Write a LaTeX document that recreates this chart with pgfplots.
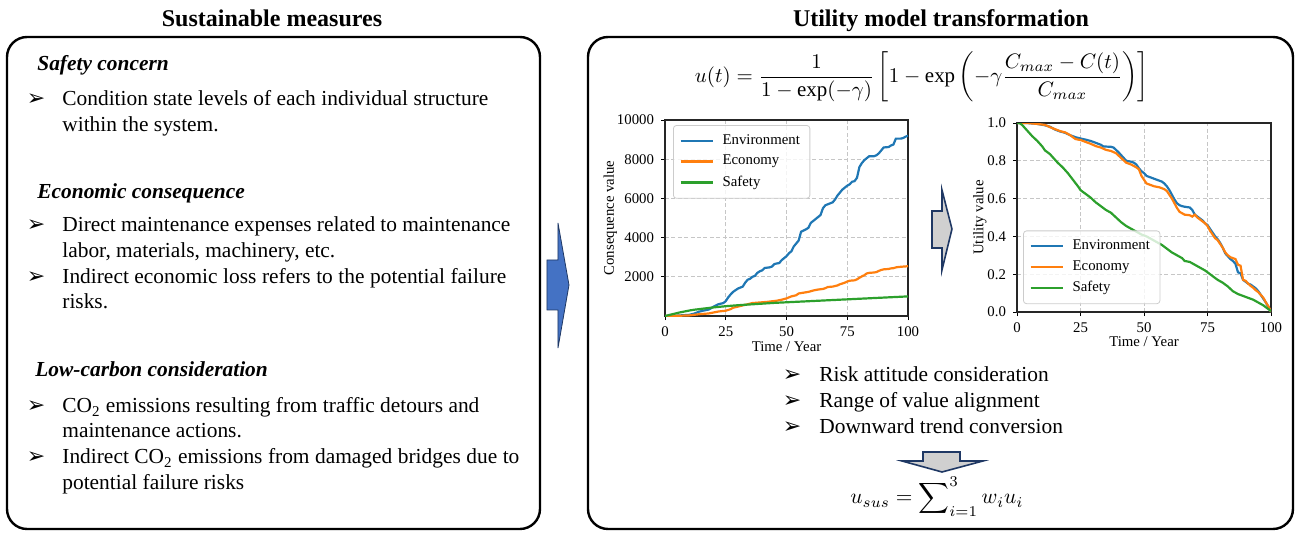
\documentclass[border=0pt]{standalone}
\usepackage{fontspec}
\setmainfont{Liberation Serif}
\newfontfamily\dejavu{DejaVu Sans}
\usepackage{graphicx}
\usepackage{pgfplots}
\pgfplotsset{compat=1.18}
\definecolor{mblue}{HTML}{1F77B4}
\definecolor{morange}{HTML}{FF7F0E}
\definecolor{mgreen}{HTML}{2CA02C}
\definecolor{arrowblue}{HTML}{4472C4}
\definecolor{navy}{HTML}{1F3864}
\definecolor{agray}{HTML}{D0D0D0}
\newcommand{\bodyfont}{\fontsize{10.7bp}{13bp}\selectfont}
\newcommand{\bul}{{\dejavu\fontsize{11bp}{12bp}\selectfont ➢}}
\newcommand{\plotfont}{\fontsize{7.4bp}{9bp}\selectfont}
\pgfplotsset{
  legend image code/.code={\draw[#1] (0bp,0bp) -- (16bp,0bp); \path (18.5bp,0bp);},
  myaxis/.style={
    scale only axis,
    xmin=0,xmax=100,
    xtick={0,25,50,75,100},
    tick align=outside, xtick pos=bottom, ytick pos=left,
    major tick length=2bp,
    tick style={black, line width=0.5bp},
    axis line style={black!85, line width=0.6bp},
    grid=major,
    grid style={gray!45, line width=0.5bp, dash pattern=on 2bp off 1.2bp},
    tick label style={font=\plotfont},
    label style={font=\plotfont},
    /pgf/number format/assume math mode=true,
    /pgf/number format/1000 sep={},
    legend style={font=\plotfont, draw=black!20, rounded corners=1.5bp, fill=white, fill opacity=0.8, text opacity=1, row sep=0bp, inner xsep=3bp, inner ysep=2.5bp},
    legend cell align=left,
    every axis plot/.append style={line width=1.1bp},
    xlabel={Time / Year},
    xlabel style={at={(axis description cs:0.5,-0.158)}, anchor=center},
  }
}
\begin{document}
\begin{tikzpicture}
\useasboundingbox (0,0) rectangle (647.5bp,-266.5bp);
\begin{scope}[x=0.5bp,y=-0.5bp]
% titles and boxes
\node[anchor=base, inner sep=0, font=\fontsize{12bp}{14bp}\selectfont\bfseries] at (272,26) {Sustainable measures};
\node[anchor=base, inner sep=0, font=\fontsize{12bp}{14bp}\selectfont\bfseries] at (941,26) {Utility model transformation};
\draw[line width=1.2bp, rounded corners=10bp] (7,37) rectangle (540,529);
\draw[line width=1.2bp, rounded corners=10bp] (588,37) rectangle (1293,529);
% left text
\begin{scope}[every node/.style={inner sep=0, font=\bodyfont}]
\node[anchor=base west] at (37,70) {\textbf{\textit{Safety concern}}};
\node[anchor=base] at (36,106) {\bul};
\node[anchor=base west] at (62,106) {\makebox[213bp][s]{Condition state levels of each individual structure}};
\node[anchor=base west] at (62,132) {within the system.};
\node[anchor=base west] at (37,199) {\textbf{\textit{Economic consequence}}};
\node[anchor=base] at (36,232) {\bul};
\node[anchor=base west] at (62,232) {\makebox[224bp][s]{Direct maintenance expenses related to maintenance}};
\node[anchor=base west] at (62,258) {labor, materials, machinery, etc.};
\node[anchor=base] at (36,284) {\bul};
\node[anchor=base west] at (62,284) {\makebox[222bp][s]{Indirect economic loss refers to the potential failure}};
\node[anchor=base west] at (62,309) {risks.};
\node[anchor=base west] at (35,377) {\textbf{\textit{Low-carbon consideration}}};
\node[anchor=base] at (36,413) {\bul};
\node[anchor=base west] at (62,413) {\makebox[208.5bp][s]{CO\textsubscript{2} emissions resulting from traffic detours and}};
\node[anchor=base west] at (62,438) {maintenance actions.};
\node[anchor=base] at (36,464) {\bul};
\node[anchor=base west] at (62,464) {\makebox[228.5bp][s]{Indirect CO\textsubscript{2} emissions from damaged bridges due to}};
\node[anchor=base west] at (62,490) {potential failure risks};
% right text
\node[anchor=base] at (792,382) {\bul};
\node[anchor=base west] at (819,382) {Risk attitude consideration};
\node[anchor=base] at (792,408) {\bul};
\node[anchor=base west] at (819,408) {Range of value alignment};
\node[anchor=base] at (792,434) {\bul};
\node[anchor=base west] at (819,434) {Downward trend conversion};
\end{scope}
% formulas
\node[inner sep=0] at (922,77) {\resizebox{227bp}{!}{$\displaystyle u(t)=\frac{1}{1-\exp(-\gamma)}\left[1-\exp\left(-\gamma\frac{C_{max}-C(t)}{C_{max}}\right)\right]$}};
\node[inner sep=0] at (937,497) {\resizebox{86.5bp}{!}{$\displaystyle u_{sus}=\sum\nolimits_{i=1}^{3} w_i u_i$}};
% arrows
\draw[fill=arrowblue, draw=navy, line width=0.4bp] (547,260) -- (558,260) -- (558,223) -- (569,285) -- (558,348) -- (558,310) -- (547,310) -- cycle;
\draw[fill=agray, draw=navy, line width=0.8bp] (932,211) -- (942,211) -- (942,190) -- (952,229) -- (942,270) -- (942,248) -- (932,248) -- cycle;
\draw[fill=agray, draw=navy, line width=0.8bp] (923,452) -- (960,452) -- (960,461) -- (983,461) -- (942,472) -- (902,461) -- (923,461) -- cycle;
\end{scope}

% left plot
\begin{axis}[myaxis, at={(332.5bp,-158bp)}, anchor=south west,
  width=121.5bp, height=98bp,
  ymin=0, ymax=10000, ytick={2000,4000,6000,8000,10000}, scaled y ticks=false,
  ylabel={Consequence value},
  ylabel style={at={(axis description cs:-0.225,0.5)}, anchor=center},
  legend style={at={(0.033,0.974)}, anchor=north west}]
\addplot[mblue] coordinates {(0,0)(5,20)(10,60)(12,120)(14,220)(16,280)(18,330)(19,400)(20,480)(22,600)(24,660)(25,760)(26,950)(27,1100)(28,1230)(30,1400)(31,1450)(32,1500)(33,1700)(34,1850)(35,1900)(36,2000)(37,2050)(38,2200)(39,2280)(40,2330)(41,2450)(43,2480)(44,2520)(45,2650)(46,2680)(47,2700)(48,2850)(50,3050)(51,3200)(52,3300)(53,3550)(54,3700)(55,3850)(56,4300)(58,4420)(59,4500)(60,4750)(62,4950)(63,5050)(64,5150)(65,5500)(66,5650)(68,5750)(69,5800)(70,5950)(71,6150)(72,6300)(73,6450)(74,6550)(75,6650)(76,6720)(77,6850)(78,6880)(79,7050)(80,7600)(81,7800)(82,7950)(83,8050)(84,8150)(86,8150)(87,8200)(88,8300)(89,8450)(90,8600)(92,8620)(93,8700)(94,8750)(95,9050)(97,9050)(98,9080)(99,9150)(100,9200)};
\addlegendentry{Environment}
\addplot[morange] coordinates {(0,0)(5,10)(10,30)(12,60)(14,90)(18,130)(20,180)(22,230)(25,270)(27,350)(28,420)(30,480)(32,540)(34,600)(36,660)(38,680)(40,700)(42,720)(44,750)(46,780)(48,830)(50,900)(51,950)(52,1000)(54,1060)(55,1150)(57,1190)(59,1230)(61,1300)(63,1350)(65,1380)(66,1420)(67,1480)(69,1500)(71,1560)(72,1620)(74,1700)(75,1760)(76,1800)(78,1820)(79,1870)(80,1950)(81,2020)(82,2080)(83,2170)(84,2200)(86,2220)(87,2240)(88,2300)(89,2350)(90,2380)(92,2400)(93,2430)(94,2440)(95,2480)(96,2500)(98,2520)(100,2540)};
\addlegendentry{Economy}
\addplot[mgreen] coordinates {(0,0)(2,60)(4,120)(6,180)(8,230)(10,280)(12,320)(14,350)(16,380)(18,410)(20,440)(25,500)(30,550)(35,590)(40,630)(45,670)(50,700)(55,730)(60,760)(65,790)(70,820)(75,850)(80,880)(85,910)(90,940)(95,970)(100,1000)};
\addlegendentry{Safety}
\end{axis}

% right plot
\begin{axis}[myaxis, at={(508.5bp,-156bp)}, anchor=south west,
  width=127bp, height=94.5bp,
  ymin=0, ymax=1, ytick={0,0.2,0.4,0.6,0.8,1},
  yticklabel style={/pgf/number format/.cd, fixed, fixed zerofill, precision=1},
  ylabel={Utility value},
  ylabel style={at={(axis description cs:-0.146,0.5)}, anchor=center},
  legend style={at={(0.024,0.042)}, anchor=south west}]
\addplot[mblue] coordinates {(0,1)(4,1)(8,0.995)(11,0.988)(13,0.98)(15,0.965)(17,0.955)(19,0.948)(21,0.935)(23,0.925)(25,0.918)(27,0.912)(29,0.905)(31,0.895)(33,0.885)(34,0.876)(37,0.874)(38,0.87)(40,0.845)(42,0.815)(43,0.8)(45,0.795)(46,0.79)(47,0.78)(48,0.76)(49,0.745)(50,0.735)(51,0.72)(53,0.71)(55,0.7)(57,0.69)(58,0.68)(59,0.665)(60,0.645)(61,0.62)(62,0.595)(63,0.575)(64,0.565)(65,0.56)(66,0.557)(68,0.553)(69,0.54)(70,0.515)(71,0.505)(72,0.495)(73,0.485)(74,0.47)(75,0.46)(76,0.44)(77,0.42)(78,0.40)(79,0.385)(80,0.365)(81,0.34)(82,0.31)(83,0.295)(84,0.28)(85,0.27)(86,0.255)(87,0.21)(88,0.205)(89,0.17)(90,0.16)(91,0.15)(92,0.145)(93,0.135)(94,0.125)(95,0.11)(96,0.09)(97,0.07)(98,0.05)(99,0.025)(100,0)};
\addlegendentry{Environment}
\addplot[morange] coordinates {(0,1)(4,1)(8,0.995)(11,0.99)(13,0.978)(15,0.967)(17,0.957)(19,0.95)(21,0.935)(23,0.915)(25,0.91)(27,0.9)(29,0.89)(31,0.878)(33,0.87)(35,0.858)(37,0.852)(39,0.84)(41,0.815)(43,0.79)(45,0.78)(47,0.765)(48,0.755)(49,0.72)(50,0.70)(51,0.68)(52,0.675)(54,0.665)(56,0.66)(58,0.65)(59,0.64)(60,0.62)(61,0.60)(62,0.575)(63,0.55)(64,0.53)(66,0.515)(68,0.512)(69,0.505)(70,0.515)(71,0.5)(72,0.49)(73,0.48)(74,0.47)(75,0.455)(76,0.43)(77,0.41)(78,0.39)(79,0.38)(80,0.36)(81,0.34)(82,0.315)(83,0.30)(84,0.29)(85,0.285)(86,0.28)(87,0.25)(88,0.245)(89,0.17)(90,0.165)(91,0.15)(92,0.138)(93,0.128)(94,0.115)(95,0.105)(96,0.09)(97,0.075)(98,0.05)(99,0.03)(100,0)};
\addlegendentry{Economy}
\addplot[mgreen] coordinates {(0,1)(1,1)(2,0.99)(3,0.975)(4,0.96)(5,0.945)(6,0.93)(8,0.905)(10,0.875)(11,0.855)(13,0.835)(14,0.82)(16,0.79)(18,0.765)(20,0.735)(22,0.70)(24,0.665)(25,0.645)(27,0.625)(29,0.605)(31,0.58)(33,0.56)(35,0.54)(37,0.525)(39,0.50)(41,0.475)(43,0.455)(45,0.44)(47,0.425)(49,0.41)(51,0.40)(53,0.385)(55,0.37)(57,0.355)(59,0.335)(61,0.315)(63,0.30)(65,0.285)(66,0.27)(68,0.265)(70,0.25)(72,0.235)(74,0.22)(75,0.21)(77,0.19)(79,0.17)(81,0.155)(83,0.135)(85,0.11)(87,0.095)(89,0.085)(91,0.075)(93,0.065)(95,0.05)(97,0.035)(99,0.015)(100,0.005)};
\addlegendentry{Safety}
\end{axis}
\end{tikzpicture}
\end{document}
